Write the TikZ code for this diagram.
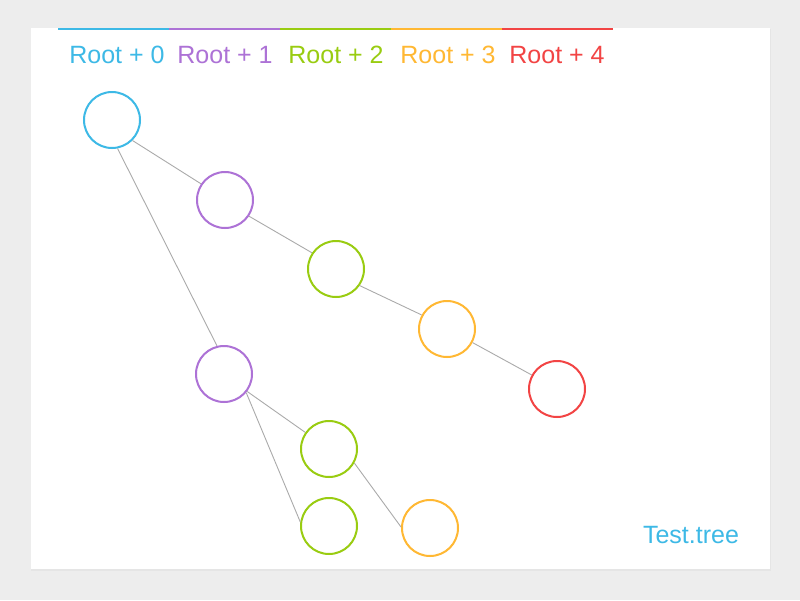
\documentclass[tikz,border=0pt]{standalone}
\usepackage{fontspec}
\setmainfont{Liberation Sans}
\definecolor{lvlzero}{RGB}{61,185,230}
\definecolor{lvlone}{RGB}{173,114,214}
\definecolor{lvltwo}{RGB}{153,204,17}
\definecolor{lvlthree}{RGB}{255,184,51}
\definecolor{lvlfour}{RGB}{242,68,68}
\definecolor{edgegray}{RGB}{170,170,170}
\tikzset{
  treenode/.style={circle, draw, line width=2pt, fill=white, minimum size=56pt, inner sep=0pt},
  treeedge/.style={draw=edgegray, line width=0.9pt},
  levellabel/.style={font=\fontsize{25}{25}\selectfont}
}
\begin{document}
\begin{tikzpicture}[x=1pt, y=-1pt]
      \newcommand\SEG{111}
      \newcommand\BAR{58}

      \fill[black!7] (0,0) rectangle (800,600);
      \fill[black!10] (31,29) rectangle (771,571);
      \fill[white] (31,28) rectangle (770,569);
      \useasboundingbox (0,0) rectangle (800,600);

      % level bars and headings
      \foreach \c/\i/\lx in {lvlzero/0/117, lvlone/1/225, lvltwo/2/336, lvlthree/3/448, lvlfour/4/557} {
        \draw[\c, line width=2pt] (\BAR+\i*\SEG, 29) -- (\BAR+\i*\SEG+\SEG, 29);
        \node[levellabel, text=\c] (head\i) at (\lx, 55) {Root + \i};
      }

      \node[treenode, draw=lvlzero] (root) at (112, 120) {};
      \node[treenode, draw=lvlone] (a) at (225, 200) {};
      \node[treenode, draw=lvltwo] (b) at (336, 269) {};
      \node[treenode, draw=lvlthree] (c) at (447, 329) {};
      \node[treenode, draw=lvlfour] (d) at (557, 389) {};

      \node[treenode, draw=lvlone] (e) at (224, 374) {};
      \node[treenode, draw=lvltwo] (f) at (329, 449) {};
      \node[treenode, draw=lvltwo] (g) at (329, 526) {};
      \node[treenode, draw=lvlthree] (h) at (430, 528) {};

      \draw[treeedge] (root.-45) -- (a.146);
      \draw[treeedge] (a.-34) -- (b.146);
      \draw[treeedge] (b.-35) -- (c.151);
      \draw[treeedge] (c.-28) -- (d.151);
      \draw[treeedge] (root.-79) -- (e.104);
      \draw[treeedge] (e.-37) -- (f.145);
      \draw[treeedge] (e.-40) -- (g.172);
      \draw[treeedge] (f.-29) -- (h.178);

      \node[levellabel, text=lvlzero] (title) at (691, 535) {Test.tree};
\end{tikzpicture}
\end{document}
